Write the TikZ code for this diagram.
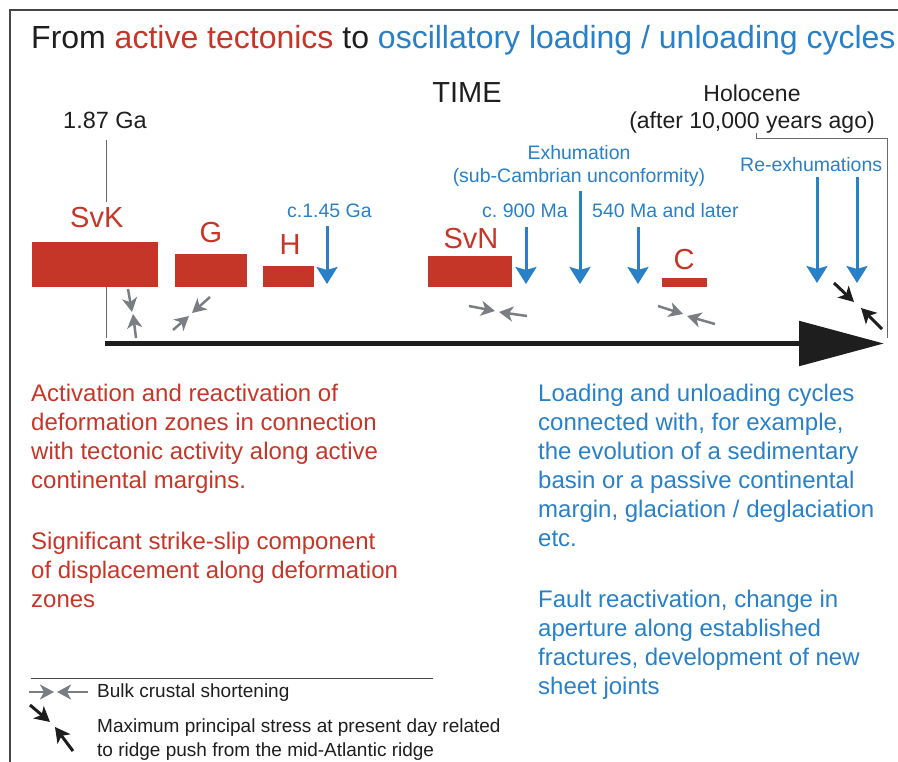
\documentclass[tikz,border=0pt]{standalone}
\usepackage{fontspec}
\setmainfont{Liberation Sans}
\usetikzlibrary{arrows.meta}
\definecolor{tred}{RGB}{198,54,40}
\definecolor{tblue}{RGB}{40,128,200}
\definecolor{agray}{RGB}{122,126,130}
\definecolor{tblack}{RGB}{30,30,30}
\definecolor{framegray}{RGB}{70,70,70}
\definecolor{linegray}{RGB}{105,105,105}
\newcommand\setfs[2]{\fontsize{#1}{#2}\selectfont}
\begin{document}
\begin{tikzpicture}[x=1pt,y=-1pt,
  txt/.style={inner sep=0pt, anchor=base west, text=tblack},
  ctxt/.style={inner sep=0pt, anchor=base, text=tblack},
  redrect/.style={fill=tred, draw=none},
  bluearrow/.style={draw=tblue, line width=3pt, -{Stealth[length=17pt,width=21pt,inset=3pt]}},
  grayarrow/.style={draw=agray, line width=2.5pt, -{Stealth[length=14pt,width=15pt,inset=4pt]}},
  blackarrow/.style={draw=tblack, line width=3pt, -{Stealth[length=15pt,width=16pt,inset=4pt]}},
  thinline/.style={draw=linegray, line width=1pt},
  ]
\useasboundingbox (0,0) rectangle (898,762);
% frame
\draw[framegray, line width=1.5pt] (10,762) -- (10,10) -- (898,10);

% title
\node[txt] (title) at (31,49) {\setfs{32}{38}From \textcolor{tred}{active tectonics} to \textcolor{tblue}{oscillatory loading / unloading cycles}};

% time labels
\node[ctxt] (time) at (467,103) {\setfs{29}{34}TIME};
\node[ctxt] (holo1) at (752,102) {\setfs{23}{27}Holocene};
\node[ctxt] (holo2) at (752,129) {\setfs{23}{27}(after 10,000 years ago)};
\node[txt] (ga187) at (63,129) {\setfs{23.5}{27}1.87 Ga};

% reference lines
\coordinate (l1a) at (106,140);
\coordinate (l1b) at (106,202);
\coordinate (l1c) at (106,287);
\coordinate (l1d) at (106,338);
\draw[thinline] (l1a) -- (l1b);
\draw[thinline] (l1c) -- (l1d);
\coordinate (hb1) at (756,133);
\coordinate (hb2) at (756,139);
\coordinate (hb3) at (887,139);
\coordinate (hb4) at (887,338);
\draw[thinline] (hb1) -- (hb2) -- (hb3) -- (hb4);

% red rectangles
\node[redrect, minimum width=126pt, minimum height=45pt, inner sep=0pt, anchor=north west] (svk) at (32,242) {};
\node[redrect, minimum width=72pt, minimum height=33pt, inner sep=0pt, anchor=north west] (g) at (175,254) {};
\node[redrect, minimum width=51pt, minimum height=21pt, inner sep=0pt, anchor=north west] (h) at (263,266) {};
\node[redrect, minimum width=84pt, minimum height=31pt, inner sep=0pt, anchor=north west] (svn) at (428,256) {};
\node[redrect, minimum width=45pt, minimum height=9pt, inner sep=0pt, anchor=north west] (c) at (662,278) {};

% red labels
\node[txt, text=tred] (svklab) at (70,228) {\setfs{29}{34}SvK};
\node[ctxt, text=tred] (glab) at (211,243) {\setfs{29}{34}G};
\node[ctxt, text=tred] (hlab) at (290,255) {\setfs{29}{34}H};
\node[ctxt, text=tred] (svnlab) at (471,249) {\setfs{29}{34}SvN};
\node[ctxt, text=tred] (clab) at (684,270) {\setfs{29}{34}C};

% blue labels
\node[txt, text=tblue] (b145) at (287,218) {\setfs{19.5}{23}c.1.45 Ga};
\node[txt, text=tblue] (b900) at (482,218) {\setfs{19.5}{23}c.\ 900 Ma};
\node[txt, text=tblue] (b540) at (592,218) {\setfs{19.5}{23}540 Ma and later};
\node[ctxt, text=tblue] (bexh1) at (579,160) {\setfs{19.5}{23}Exhumation};
\node[ctxt, text=tblue] (bexh2) at (579,183) {\setfs{19.5}{23}(sub-Cambrian unconformity)};
\node[txt, text=tblue] (brex) at (740,172) {\setfs{19.5}{23}Re-exhumations};

% blue arrows
\coordinate (a1s) at (327,226); \coordinate (a1e) at (327,284);
\coordinate (a2s) at (526,227); \coordinate (a2e) at (526,284);
\coordinate (a3s) at (580,191); \coordinate (a3e) at (580,284);
\coordinate (a4s) at (638,227); \coordinate (a4e) at (638,284);
\coordinate (a5s) at (817,177); \coordinate (a5e) at (817,283);
\coordinate (a6s) at (857,177); \coordinate (a6e) at (857,283);
\draw[bluearrow] (a1s) -- (a1e);
\draw[bluearrow] (a2s) -- (a2e);
\draw[bluearrow] (a3s) -- (a3e);
\draw[bluearrow] (a4s) -- (a4e);
\draw[bluearrow] (a5s) -- (a5e);
\draw[bluearrow] (a6s) -- (a6e);

% gray compression pairs
\coordinate (p1a) at (128,289); \coordinate (p1b) at (132,312);
\coordinate (p1c) at (136,338); \coordinate (p1d) at (133,314);
\draw[grayarrow] (p1a) -- (p1b);
\draw[grayarrow] (p1c) -- (p1d);
\coordinate (p2a) at (210,297); \coordinate (p2b) at (192,313);
\coordinate (p2c) at (173,330); \coordinate (p2d) at (189,316);
\draw[grayarrow] (p2a) -- (p2b);
\draw[grayarrow] (p2c) -- (p2d);
\coordinate (p3a) at (469,306); \coordinate (p3b) at (495,311);
\coordinate (p3c) at (527,316); \coordinate (p3d) at (499,312);
\draw[grayarrow] (p3a) -- (p3b);
\draw[grayarrow] (p3c) -- (p3d);
\coordinate (p4a) at (658,306); \coordinate (p4b) at (683,314);
\coordinate (p4c) at (715,324); \coordinate (p4d) at (687,316);
\draw[grayarrow] (p4a) -- (p4b);
\draw[grayarrow] (p4c) -- (p4d);

% black stress pair
\coordinate (k1a) at (834,283); \coordinate (k1b) at (854,302);
\coordinate (k1c) at (882,329); \coordinate (k1d) at (861,308);
\draw[blackarrow] (k1a) -- (k1b);
\draw[blackarrow] (k1c) -- (k1d);

% time axis
\coordinate (ts) at (105,343.5);
\coordinate (te) at (884,343.5);
\draw[tblack, line width=5.5pt, -{Triangle[length=85pt,width=44pt]}] (ts) -- (te);

% paragraphs
\node[txt, text=tred] (rp1) at (31,402) {\parbox[t]{420pt}{\raggedright\setfs{24}{29}Activation and reactivation of\\deformation zones in connection\\with tectonic activity along active\\continental margins.}};
\node[txt, text=tred] (rp2) at (31,549) {\parbox[t]{420pt}{\raggedright\setfs{24}{29}Significant strike-slip component\\of displacement along deformation\\zones}};
\node[txt, text=tblue] (bp1) at (538,402) {\parbox[t]{360pt}{\raggedright\setfs{24}{29}Loading and unloading cycles\\connected with, for example,\\the evolution of a sedimentary\\basin or a passive continental\\margin, glaciation / deglaciation\\etc.}};
\node[txt, text=tblue] (bp2) at (538,607) {\parbox[t]{360pt}{\raggedright\setfs{24}{29}Fault reactivation, change in\\aperture along established\\fractures, development of new\\sheet joints}};

% legend
\coordinate (lg1) at (31,678); \coordinate (lg2) at (433,678);
\draw[framegray, line width=1pt] (lg1) -- (lg2);
\coordinate (lga) at (29,692); \coordinate (lgb) at (54,692);
\coordinate (lgc) at (88,692); \coordinate (lgd) at (57,692);
\draw[grayarrow] (lga) -- (lgb);
\draw[grayarrow] (lgc) -- (lgd);
\node[txt] (lt1) at (97,697) {\setfs{19}{24}Bulk crustal shortening};
\coordinate (lka) at (30,705); \coordinate (lkb) at (50,722);
\coordinate (lkc) at (73,751); \coordinate (lkd) at (55,727);
\draw[blackarrow] (lka) -- (lkb);
\draw[blackarrow] (lkc) -- (lkd);
\node[txt] (lt2) at (97,732) {\parbox[t]{440pt}{\raggedright\setfs{19}{24}Maximum principal stress at present day related\\to ridge push from the mid-Atlantic ridge}};
\end{tikzpicture}
\end{document}
